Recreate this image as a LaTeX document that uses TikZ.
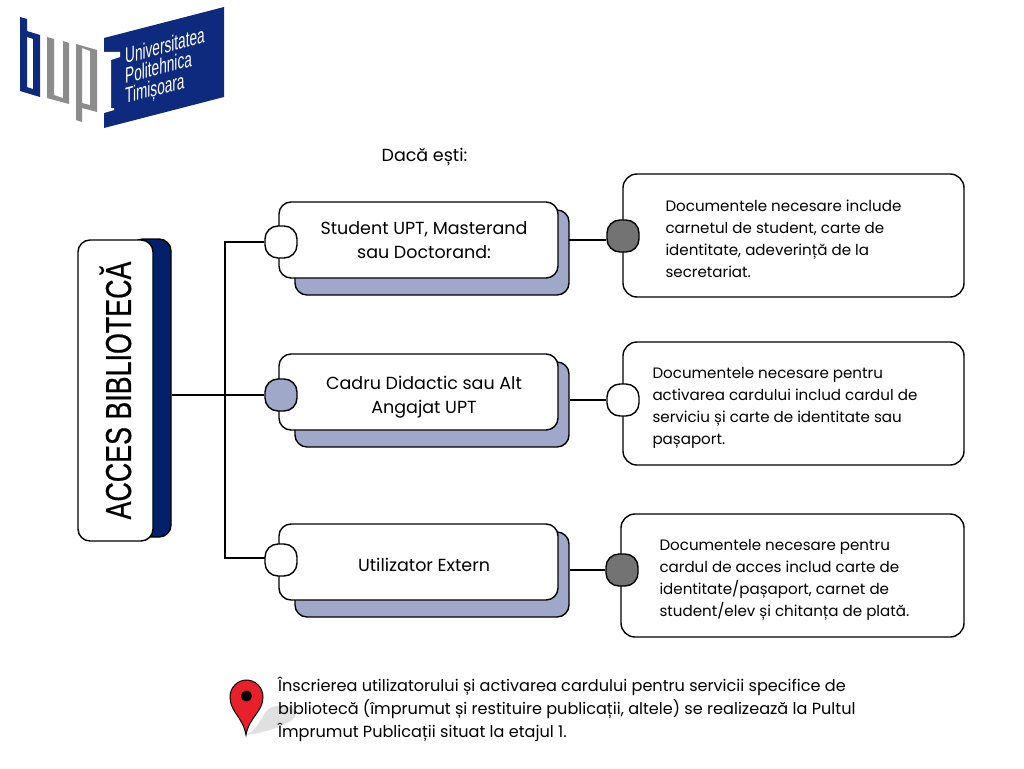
\documentclass[tikz,border=0pt]{standalone}
\usepackage{fontspec}
\setmainfont{Poppins}
\newfontfamily\narrowfont[FakeStretch=0.745,FakeBold=0.5]{Liberation Sans}
\newfontfamily\logofont[FakeStretch=0.62]{Liberation Sans}
\usetikzlibrary{calc}

\definecolor{navyupt}{HTML}{03216B}
\definecolor{lightupt}{HTML}{9FA8C9}
\definecolor{grayport}{HTML}{737373}
\definecolor{logoblue}{HTML}{0E2A7E}
\definecolor{logogray}{HTML}{8C8C8C}
\definecolor{pinred}{HTML}{E8202A}

\tikzset{
  frontbox/.style={draw=black,line width=1.4pt,fill=white,rounded corners=12pt,minimum width=279pt,minimum height=76pt,inner sep=0pt},
  backbox/.style={draw=black,line width=1.4pt,fill=lightupt,rounded corners=12pt,minimum width=274pt,minimum height=85pt,inner sep=0pt},
  docbox/.style={draw=black,line width=1.4pt,fill=white,rounded corners=14pt,minimum height=123pt,inner sep=0pt},
  boxtext/.style={align=center,inner sep=0pt,font=\fontsize{17.5}{24}\selectfont},
  doctext/.style={anchor=west,align=left,inner sep=0pt,font=\fontsize{15.1}{22}\selectfont},
  port/.style={draw=black,line width=1.4pt,fill=#1,rounded corners=13pt,minimum width=32pt,minimum height=32pt,inner sep=0pt},
  link/.style={line width=1.4pt,black},
}

\begin{document}
\begin{tikzpicture}[x=1pt,y=-1pt]
\useasboundingbox (0,0) rectangle (1024,768);

% logo
\fill[logoblue] (104,38) -- (224,7) -- (224,97) -- (104,128) -- cycle;
\fill[white] (104,52) -- (120,52) -- (120,57) -- (111,60) -- (111,108) -- (114,108) -- (114,110) -- (104,113) -- cycle;
\fill[logoblue,even odd rule] (20,17) -- (27,19) -- (27,31) -- (40,35) -- (40,97) -- (20,91) -- cycle
  (27,37) -- (33,39) -- (33,89) -- (27,87) -- cycle;
\fill[logogray] (47,37) -- (54,39) -- (54,95) -- (63,98) -- (63,41) -- (69,43) -- (69,104) -- (47,98) -- cycle;
\fill[logogray,even odd rule] (76,44) -- (97,50) -- (97,112) -- (82,108) -- (82,122) -- (76,120) -- cycle
  (82,48) -- (90,51) -- (90,105) -- (82,103) -- cycle;
\node (logotext) [white,anchor=west,align=left,inner sep=0pt,transform shape,yslant=0.26,font=\logofont\fontsize{22}{20}\selectfont] at (125,78) {Universitatea\\Politehnica\\Timișoara};

\node (title) [boxtext] at (424.5,157) {Dacă ești:};

% left box
\node (accesback) [draw=black,line width=1.4pt,fill=navyupt,rounded corners=12pt,minimum width=40pt,minimum height=298pt] at (151,388) {};
\node (acces) [draw=black,line width=1.4pt,fill=white,rounded corners=12pt,minimum width=75pt,minimum height=301pt,inner sep=0pt,font=\narrowfont\fontsize{36}{38}\selectfont] at (115.5,390.5) {\rotatebox{90}{ACCES BIBLIOTECĂ}};

% middle boxes
\node (studentback) [backbox] at (432,252.5) {};
\node (student) [frontbox] at (418.5,240) {};
\node (studenttext) [boxtext] at (424,240) {Student UPT, Masterand\\sau Doctorand:};
\node (cadruback) [backbox] at (432,404.5) {};
\node (cadru) [frontbox] at (418.5,392) {};
\node (cadrutext) [boxtext] at (424,397) {Cadru Didactic sau Alt\\Angajat UPT};
\node (externback) [backbox] at (432,574.5) {};
\node (extern) [frontbox] at (418.5,562) {};
\node (externtext) [boxtext] at (424,565) {Utilizator Extern};

% right boxes
\node (docstudent) [docbox,minimum width=341pt] at (793.5,235.5) {};
\node (docstudenttext) [doctext] at ($(docstudent.west)+(43,3.5)$) {Documentele necesare include\\carnetul de student, carte de\\identitate, adeverință de la\\secretariat.};
\node (doccadru) [docbox,minimum width=341pt] at (793.5,403.5) {};
\node (doccadrutext) [doctext] at ($(doccadru.west)+(30,4.5)$) {Documentele necesare pentru\\activarea cardului includ cardul de\\serviciu și carte de identitate sau\\pașaport.};
\node (docextern) [docbox,minimum width=343pt] at (792.5,575.5) {};
\node (docexterntext) [doctext] at ($(docextern.west)+(39,4)$) {Documentele necesare pentru\\cardul de acces includ carte de\\identitate/pașaport, carnet de\\student/elev și chitanța de plată.};

% ports
\node (portstudent) [port=white] at (281,242) {};
\node (portcadru) [port=lightupt] at (281,395) {};
\node (portextern) [port=white] at (281,560) {};
\node (portdocstudent) [port=grayport] at (623,236) {};
\node (portdoccadru) [port=white] at (623,400) {};
\node (portdocextern) [port=grayport] at (622,570) {};

% links
\coordinate (trunk) at (225,395);
\coordinate (linkextern) at (265,558);
\coordinate (linkstudent) at (569,240);
\draw[link] (accesback.east |- portcadru) -- (portcadru.west);
\draw[link] (portstudent.west) -| (trunk) |- (linkextern);
\draw[link] (linkstudent) -- (linkstudent -| portdocstudent.west);
\draw[link] (cadruback.east |- portdoccadru) -- (portdoccadru.west);
\draw[link] (externback.east |- portdocextern) -- (portdocextern.west);

% note with pin
\fill[black!12] (247,735) .. controls (262,725) and (262,712) .. (270,708) .. controls (280,703) and (296,706) .. (296,714) .. controls (296,722) and (270,732) .. (247,735) -- cycle;
\draw[black,line width=1pt,fill=pinred] (246,735) .. controls (243,717) and (230,712) .. (230,697) .. controls (230,687) and (238,680) .. (246.5,680) .. controls (255,680) and (263,687) .. (263,697) .. controls (263,712) and (249,717) .. (246,735) -- cycle;
\fill[black] (246.5,696) circle (5.5pt);
\node (note) [anchor=north west,align=left,inner sep=0pt,font=\fontsize{16.1}{22.8}\selectfont] at (278,677) {Înscrierea utilizatorului și activarea cardului pentru servicii specifice de\\bibliotecă (împrumut și restituire publicații, altele) se realizează la Pultul\\Împrumut Publicații situat la etajul 1.};
\end{tikzpicture}
\end{document}
